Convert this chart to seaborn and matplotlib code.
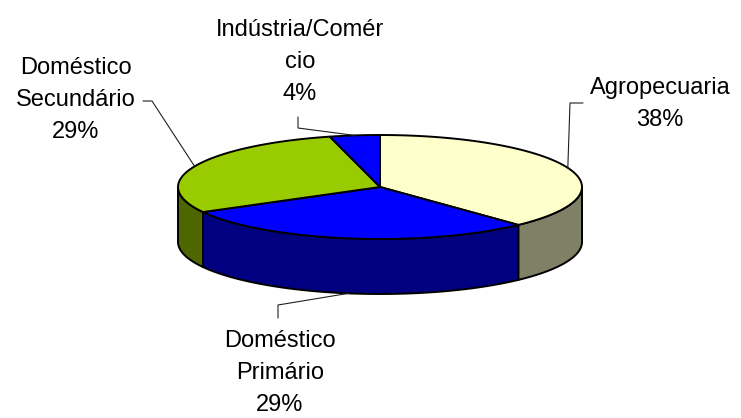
import numpy as np
import matplotlib.pyplot as plt
import seaborn as sns
from matplotlib.patches import Polygon

# data
labels = ['Agropecuaria', 'Doméstico\nPrimário', 'Doméstico\nSecundário', 'Indústria/Comér\ncio']
shares = [38, 29, 29, 4]
top_colors = ['#FFFFCC', '#0000FF', '#99CC00', '#0000FF']
side_colors = ['#808066', '#000080', '#4D6600', '#000080']

# label placement (pixel coords) and leader elbows
label_pos = [(660, 104), (280, 373), (76, 100), (300, 62)]
leader_elbow = [[(583, 103), (570, 103)],
                [(278, 318), (278, 305)],
                [(143, 101), (152, 101)],
                [(298, 117), (298, 128)]]

# pie geometry (pixels)
CX, CY, A, B, DEPTH = 380, 187, 202, 52, 55


def pt(theta, dz=0.0):
    return CX + A * np.sin(theta), CY - B * np.cos(theta) + dz


def arc(t0, t1, dz=0.0, n=200):
    t = np.linspace(t0, t1, max(int(n * (t1 - t0) / (2 * np.pi)), 2))
    return np.column_stack([CX + A * np.sin(t), CY - B * np.cos(t) + dz])


sns.set_style('white')
plt.rcParams['font.family'] = ['Liberation Sans', 'DejaVu Sans']

fig = plt.figure(figsize=(7.41, 4.18), dpi=100)
ax = fig.add_axes([0, 0, 1, 1])
ax.set_xlim(0, 741)
ax.set_ylim(418, 0)
ax.axis('off')

total = float(sum(shares))
bounds = np.concatenate([[0], np.cumsum(shares)]) / total * 2 * np.pi

# side walls (front half only)
for i in range(len(shares)):
    t0 = max(bounds[i], np.pi / 2)
    t1 = min(bounds[i + 1], 3 * np.pi / 2)
    if t1 <= t0:
        continue
    top = arc(t0, t1)
    bot = arc(t0, t1, DEPTH)[::-1]
    ax.add_patch(Polygon(np.vstack([top, bot]), closed=True, facecolor=side_colors[i],
                         edgecolor='black', lw=1.4, joinstyle='round', zorder=1))

# top faces
for i in range(len(shares)):
    pts = np.vstack([[[CX, CY]], arc(bounds[i], bounds[i + 1])])
    ax.add_patch(Polygon(pts, closed=True, facecolor=top_colors[i],
                         edgecolor='black', lw=1.4, joinstyle='round', zorder=2))

# labels and leader lines
for i, (lab, v) in enumerate(zip(labels, shares)):
    mid = (bounds[i] + bounds[i + 1]) / 2
    dz = DEPTH if np.cos(mid) < -0.9 else 0.0
    ex, ey = pt(mid, dz)
    xs = [p[0] for p in leader_elbow[i]] + [ex]
    ys = [p[1] for p in leader_elbow[i]] + [ey]
    ax.plot(xs, ys, color='#202020', lw=0.8, zorder=3)
    ax.text(label_pos[i][0], label_pos[i][1], f'{lab}\n{v}%', ha='center', va='center',
            fontsize=17, linespacing=1.6, color='black', zorder=4)

fig.savefig('out.png', dpi=100)
